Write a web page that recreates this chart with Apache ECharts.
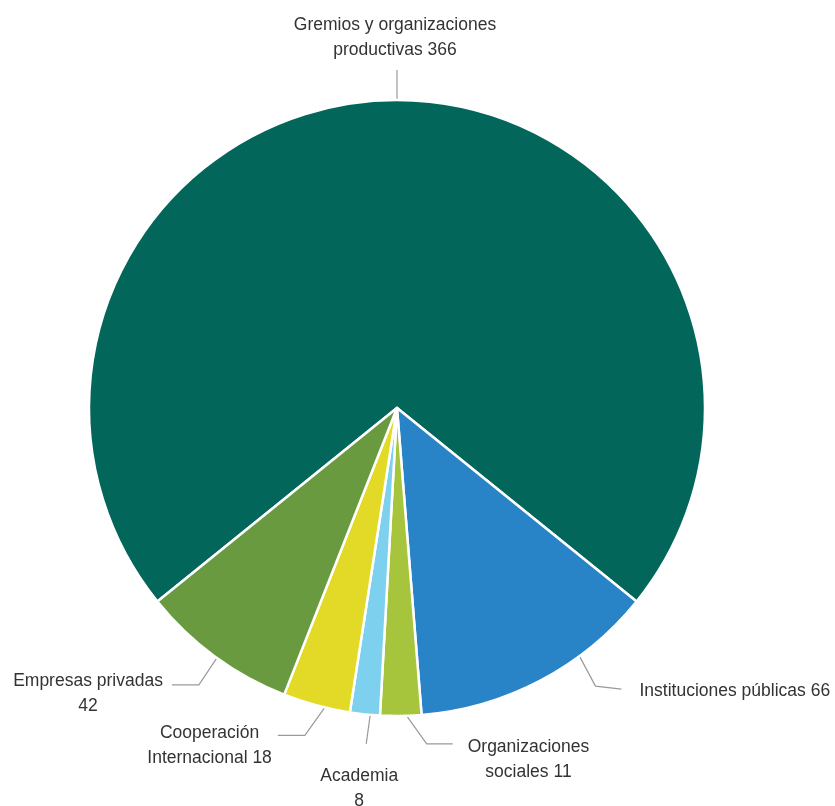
<!DOCTYPE html>
<html>
<head>
<meta charset="utf-8">
<style>
  html, body { margin: 0; padding: 0; background: #ffffff; }
  #chart { width: 835px; height: 806px; }
</style>
<script src="https://cdn.jsdelivr.net/npm/echarts/dist/echarts.min.js"></script>
</head>
<body>
<div id="chart"></div>
<script>
// ---- data ----
const categories = [
  'Gremios y organizaciones\nproductivas',
  'Instituciones públicas',
  'Organizaciones\nsociales',
  'Academia',
  'Cooperación\nInternacional',
  'Empresas privadas'
];
const values = [366, 66, 11, 8, 18, 42];
const valueSeparators = [' ', ' ', ' ', '\n', ' ', '\n'];
const colors = ['#02665A', '#2983C7', '#A6C53C', '#7DD0EE', '#E3DA27', '#699A3F'];

// ---- styles (label-line geometry relative to the slices) ----
const CX = 397, CY = 408, R = 308;
const anchorOffsets = [0, 8.5, 1.1, 1.0, 1.6, 0.5];   // degrees from slice mid-angle
const elbowDX = [0, 16, 20, -4, -20, -18];
const elbowDY = [-30, 30, 28, 29, 28, 27];
const tailDX = [0, 26, 26, 0, -27, -27];
const tailDY = [0, 3, 0, 0, 0, 0];
const labelModes = ['center', 'right', 'right', 'center', 'left', 'left'];
const labelGaps = [0, 18, 15, 0, 6, 9];
const labelDX = [-2, 0, 0, -7, 0, 0];
const firstLineDY = [-45, 2, 3, 32.5, -2, -4];   // first text line centre relative to line end
const LH = 25;

const total = values.reduce((a, b) => a + b, 0);
const startAngle = 90 + 360 * values[0] / total / 2;
const midAngles = [];
let cum = 0;
values.forEach(v => { midAngles.push(startAngle - (cum + v / 2) / total * 360); cum += v; });

const chart = echarts.init(document.getElementById('chart'), null, { renderer: 'canvas' });

const data = values.map((v, i) => ({
  value: v,
  name: categories[i],
  itemStyle: { color: colors[i] }
}));

chart.setOption({
  backgroundColor: '#ffffff',
  animation: false,
  series: [{
    type: 'pie',
    center: [CX, CY],
    radius: [0, R],
    startAngle: startAngle,
    clockwise: true,
    avoidLabelOverlap: false,
    data: data,
    itemStyle: { borderColor: '#ffffff', borderWidth: 2.5 },
    label: {
      show: true,
      position: 'outside',
      fontFamily: '"Liberation Sans", Arial, sans-serif',
      fontSize: 17.5,
      lineHeight: LH,
      color: '#333333',
      formatter: function (p) {
        return p.name + valueSeparators[p.dataIndex] + p.value;
      }
    },
    labelLine: {
      show: true,
      smooth: false,
      length: 20,
      length2: 20,
      lineStyle: { color: '#9a9a9a', width: 1.2 }
    },
    emphasis: { disabled: true },
    labelLayout: function (p) {
      const i = p.dataIndex;
      const a = (midAngles[i] + anchorOffsets[i]) * Math.PI / 180;
      const p0 = [CX + R * Math.cos(a), CY - R * Math.sin(a)];
      const p1 = [p0[0] + elbowDX[i], p0[1] + elbowDY[i]];
      const p2 = [p1[0] + tailDX[i], p1[1] + tailDY[i]];
      const end = p2;
      const w = p.labelRect.width;
      const mode = labelModes[i];
      const gap = labelGaps[i];
      const out = { align: 'center', verticalAlign: 'top', labelLinePoints: [p0, p1, p2] };
      if (mode === 'center') {
        out.x = end[0] + labelDX[i];
      } else {
        const dir = mode === 'right' ? 1 : -1;
        out.x = end[0] + dir * (gap + w / 2) + labelDX[i];
      }
      out.y = end[1] + firstLineDY[i] - LH / 2;
      return out;
    }
  }]
});
</script>
</body>
</html>
